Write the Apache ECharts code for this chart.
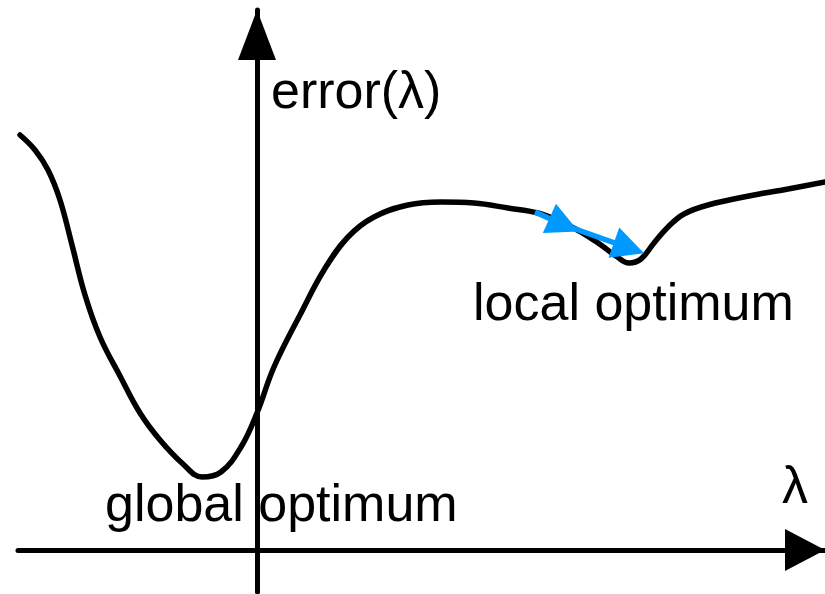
<!DOCTYPE html>
<html>
<head>
<meta charset="utf-8">
<script src="https://cdn.jsdelivr.net/npm/echarts@6/dist/echarts.min.js"></script>
<style>
  html, body { margin: 0; padding: 0; background: #fff; }
  #main { width: 825px; height: 594px; }
</style>
</head>
<body>
<div id="main"></div>
<script>
// error curve, lambda on x, error on y (origin where the axes cross)
var lambdaVals = [-2.37, -2.22, -2.09, -1.97, -1.85, -1.72, -1.57, -1.37,
  -1.17, -0.97, -0.74, -0.55, -0.36, -0.16, 0.0, 0.17, 0.44, 0.67, 0.91, 1.17, 1.51, 1.84,
  2.17, 2.51, 2.81, 3.04, 3.24, 3.44, 3.59, 3.72, 3.84, 3.97, 4.11, 4.27, 4.51, 4.97, 5.31, 5.68];
var errorVals = [4.15, 4.00, 3.80, 3.50, 3.05, 2.55, 2.13, 1.74,
  1.37, 1.10, 0.86, 0.73, 0.78, 1.03, 1.37, 1.83, 2.37, 2.80, 3.13, 3.33, 3.45, 3.48,
  3.47, 3.42, 3.37, 3.28, 3.18, 3.05, 2.94, 2.87, 2.91, 3.07, 3.23, 3.36, 3.45, 3.55, 3.61, 3.68];

// gradient step arrow (blue), two legs
var stepFrom = [[2.78, 3.38], [3.07, 3.25]];
var stepTo = [[3.07, 3.25], [3.72, 3.02]];

var labels = ['error(λ)', 'local optimum', 'global optimum', 'λ'];

var curve = lambdaVals.map(function(x, i) { return [x, errorVals[i]]; });
var steps = stepFrom.map(function(p, i) { return { coords: [p, stepTo[i]] }; });

var font = '52px "Liberation Sans", Arial, sans-serif';
function label(text, x, y) {
  return {
    type: 'text',
    x: x, y: y,
    style: { text: text, font: font, fill: '#000', textVerticalAlign: 'middle' },
    z: 10
  };
}

var chart = echarts.init(document.getElementById('main'));
chart.setOption({
  animation: false,
  grid: { left: 18, right: 0, top: 10, bottom: 2 },
  xAxis: {
    type: 'value',
    min: -2.39, max: 5.68,
    axisLine: {
      onZero: true,
      symbol: ['none', 'triangle'],
      symbolSize: [42, 40],
      symbolOffset: [0, -20],
      lineStyle: { color: '#000', width: 5 }
    },
    axisTick: { show: false },
    axisLabel: { show: false },
    splitLine: { show: false }
  },
  yAxis: {
    type: 'value',
    min: -0.42, max: 5.40,
    axisLine: {
      onZero: true,
      symbol: ['none', 'triangle'],
      symbolSize: [38, 50],
      symbolOffset: [0, -25],
      lineStyle: { color: '#000', width: 5 }
    },
    axisTick: { show: false },
    axisLabel: { show: false },
    splitLine: { show: false }
  },
  series: [
    {
      type: 'line',
      data: curve,
      smooth: 0.4,
      showSymbol: false,
      clip: false,
      lineStyle: { color: '#000', width: 5.5, cap: 'round' },
      z: 3
    },
    {
      type: 'lines',
      coordinateSystem: 'cartesian2d',
      data: steps,
      symbol: ['none', 'triangle'],
      symbolSize: [24, 32],
      lineStyle: { color: '#0099ff', width: 5.5, opacity: 1, curveness: 0 },
      z: 5
    }
  ],
  graphic: [
    label(labels[0], 271, 94),
    label(labels[1], 473, 306),
    label(labels[2], 105, 507),
    label(labels[3], 782, 489)
  ]
});
</script>
</body>
</html>
